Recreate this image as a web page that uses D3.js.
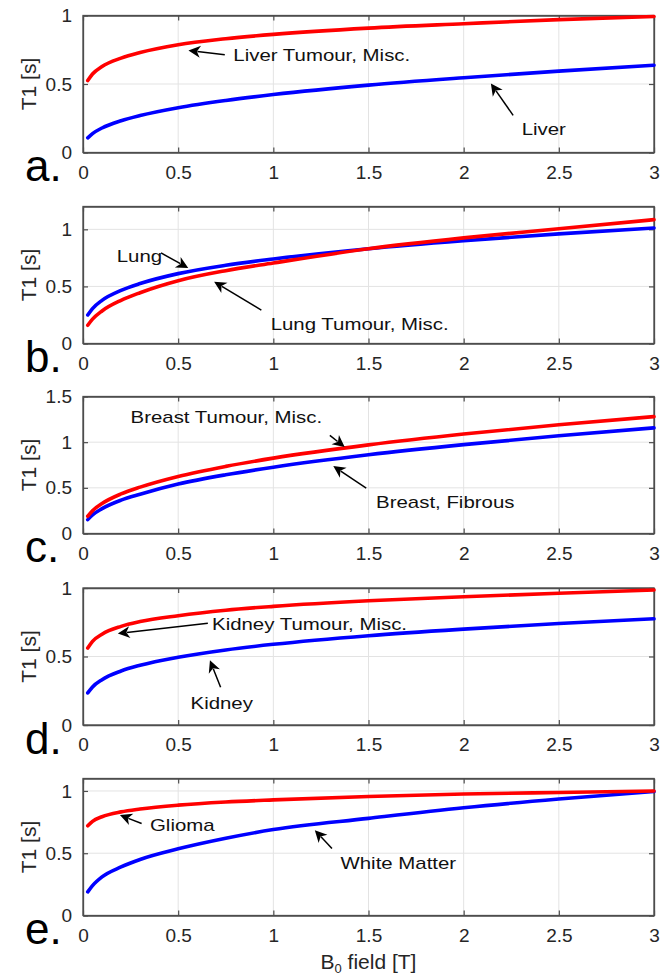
<!DOCTYPE html>
<html><head><meta charset="utf-8">
<script src="https://cdn.jsdelivr.net/npm/d3@7"></script>
<style>
html,body{margin:0;padding:0;background:#fff;}
svg{display:block;font-family:"Liberation Sans",Arial,Helvetica,sans-serif;}
</style></head>
<body><svg id="chart" width="672" height="977"></svg>
<script>
// ---------- DATA ----------
const B0 = [0.025, 0.05, 0.1, 0.2, 0.3, 0.5, 0.75, 1, 1.5, 2, 2.5, 3];

const liver        = [0.107, 0.138, 0.179, 0.232, 0.270, 0.327, 0.380, 0.423, 0.492, 0.546, 0.594, 0.637];
const liverTumour  = [0.525, 0.573, 0.628, 0.689, 0.730, 0.787, 0.830, 0.862, 0.908, 0.940, 0.970, 0.993];

const lung         = [0.250, 0.306, 0.378, 0.465, 0.525, 0.612, 0.685, 0.740, 0.830, 0.900, 0.960, 1.012];
const lungTumour   = [0.160, 0.213, 0.285, 0.378, 0.445, 0.550, 0.638, 0.705, 0.830, 0.925, 1.005, 1.085];

const breastFib    = [0.152, 0.204, 0.272, 0.365, 0.430, 0.541, 0.643, 0.726, 0.862, 0.973, 1.070, 1.157];
const breastTumour = [0.189, 0.250, 0.328, 0.433, 0.508, 0.625, 0.735, 0.825, 0.970, 1.089, 1.190, 1.280];

const kidney       = [0.234, 0.278, 0.331, 0.394, 0.436, 0.495, 0.548, 0.589, 0.652, 0.700, 0.741, 0.775];
const kidneyTumour = [0.562, 0.611, 0.663, 0.720, 0.755, 0.798, 0.838, 0.866, 0.907, 0.936, 0.962, 0.985];

const whiteMatter  = [0.190, 0.240, 0.310, 0.390, 0.450, 0.535, 0.620, 0.690, 0.780, 0.865, 0.935, 0.995];
const glioma       = [0.720, 0.756, 0.793, 0.832, 0.855, 0.886, 0.911, 0.928, 0.955, 0.975, 0.988, 1.000];

const panelLetters = ["a.", "b.", "c.", "d.", "e."];
const yMax = [1, 1.2, 1.5, 1, 1.1];
const xTicks = [0, 0.5, 1, 1.5, 2, 2.5, 3];
const xTickLabels = ["0", "0.5", "1", "1.5", "2", "2.5", "3"];
const yTicksPerPanel = [[0, 0.5, 1], [0, 0.5, 1], [0, 0.5, 1, 1.5], [0, 0.5, 1], [0, 0.5, 1]];
const yTickLabelsPerPanel = [["0","0.5","1"], ["0","0.5","1"], ["0","0.5","1","1.5"], ["0","0.5","1"], ["0","0.5","1"]];
const blueSeries = [liver, lung, breastFib, kidney, whiteMatter];
const redSeries  = [liverTumour, lungTumour, breastTumour, kidneyTumour, glioma];

// annotations: text position (tx,ty) and arrow tail (x1,y1) -> tip (x2,y2), in data units
const annotations = [
  {p:0, text:"Liver Tumour, Misc.", tx:0.79,  ty:0.666, x1:0.745, y1:0.714, x2:0.554, y2:0.745},
  {p:0, text:"Liver",               tx:2.305, ty:0.128, x1:2.26,  y1:0.271, x2:2.143, y2:0.504},
  {p:1, text:"Lung",                tx:0.177, ty:0.717, x1:0.41,  y1:0.793, x2:0.553, y2:0.662},
  {p:1, text:"Lung Tumour, Misc.",  tx:0.986, ty:0.117, x1:0.937, y1:0.293, x2:0.689, y2:0.541},
  {p:2, text:"Breast Tumour, Misc.",tx:0.25,  ty:1.207, x1:1.297, y1:1.074, x2:1.375, y2:0.947},
  {p:2, text:"Breast, Fibrous",     tx:1.54,  ty:0.279, x1:1.488, y1:0.496, x2:1.315, y2:0.738},
  {p:3, text:"Kidney Tumour, Misc.",tx:0.678, ty:0.693, x1:0.656, y1:0.742, x2:0.183, y2:0.668},
  {p:3, text:"Kidney",              tx:0.565, ty:0.116, x1:0.723, y1:0.275, x2:0.667, y2:0.472},
  {p:4, text:"Glioma",              tx:0.352, ty:0.677, x1:0.308, y1:0.739, x2:0.194, y2:0.806},
  {p:4, text:"White Matter",        tx:1.353, ty:0.377, x1:1.308, y1:0.538, x2:1.218, y2:0.685}
];

// ---------- LAYOUT ----------
const svg = d3.select("#chart");
const left = 83, right = 654, H = 137;
const tops = [15.5, 206.5, 396.5, 588, 778.5];
const x = d3.scaleLinear().domain([0, 3]).range([left, right]);

const frameColor = "#4d4d4d", gridColor = "#e3e3e3", tickTextColor = "#262626";

function stretchText(sel, factor) {
  sel.each(function() {
    const w = this.getComputedTextLength();
    d3.select(this).attr("textLength", w * factor).attr("lengthAdjust", "spacingAndGlyphs");
  });
}

tops.forEach((top, i) => {
  const y = d3.scaleLinear().domain([0, yMax[i]]).range([top + H, top]);
  const g = svg.append("g");

  // grid
  g.selectAll(".gx").data(xTicks.slice(1, -1)).join("line")
    .attr("x1", d => x(d)).attr("x2", d => x(d)).attr("y1", top).attr("y2", top + H)
    .attr("stroke", gridColor).attr("stroke-width", 1);
  g.selectAll(".gy").data(yTicksPerPanel[i].filter(v => v > 0 && v < yMax[i])).join("line")
    .attr("x1", left).attr("x2", right).attr("y1", d => y(d)).attr("y2", d => y(d))
    .attr("stroke", gridColor).attr("stroke-width", 1);

  // axes (ticks inward, MATLAB style)
  const ax = d3.axisBottom(x).tickValues(xTicks).tickFormat((d, k) => xTickLabels[k]).tickSizeInner(-5).tickSizeOuter(0).tickPadding(12);
  const gx = g.append("g").attr("transform", `translate(0,${top + H})`).call(ax);
  const ay = d3.axisLeft(y).tickValues(yTicksPerPanel[i]).tickFormat((d, k) => yTickLabelsPerPanel[i][k]).tickSizeInner(-5).tickSizeOuter(0).tickPadding(11);
  g.append("g").attr("transform", `translate(${left},0)`).call(ay);
  const axTop = d3.axisTop(x).tickValues(xTicks).tickFormat("").tickSizeInner(-5).tickSizeOuter(0);
  g.append("g").attr("transform", `translate(0,${top})`).call(axTop);
  const ayR = d3.axisRight(y).tickValues(yTicksPerPanel[i]).tickFormat("").tickSizeInner(-5).tickSizeOuter(0);
  g.append("g").attr("transform", `translate(${right},0)`).call(ayR);
  g.selectAll(".domain").attr("stroke", frameColor).attr("stroke-width", 1.3);
  g.selectAll(".tick line").attr("stroke", frameColor).attr("stroke-width", 1.2);
  g.selectAll(".tick text").attr("font-size", 19).attr("fill", tickTextColor)
    .attr("font-family", '"Liberation Sans",Arial,sans-serif');
  gx.selectAll(".tick text").attr("dy", "0.71em").attr("y", 13);

  // frame
  g.append("rect").attr("x", left).attr("y", top).attr("width", right - left).attr("height", H)
    .attr("fill", "none").attr("stroke", frameColor).attr("stroke-width", 1.3);

  // curves
  const line = d3.line().x((d, k) => x(B0[k])).y(d => y(d)).curve(d3.curveMonotoneX);
  g.append("path").datum(blueSeries[i]).attr("d", line).attr("fill", "none")
    .attr("stroke", "#0000ff").attr("stroke-width", 3.6).attr("stroke-linecap", "round");
  g.append("path").datum(redSeries[i]).attr("d", line).attr("fill", "none")
    .attr("stroke", "#ff0000").attr("stroke-width", 3.6).attr("stroke-linecap", "round");

  // y label
  g.append("text").attr("transform", `translate(36,${top + H / 2}) rotate(-90)`)
    .attr("text-anchor", "middle").attr("font-size", 21).attr("fill", tickTextColor).text("T1 [s]");

  // panel letter
  g.append("text").attr("x", 25).attr("y", top + H + 28.5).attr("font-size", 44).attr("fill", "#000")
    .text(panelLetters[i]);

  // annotations
  annotations.filter(a => a.p === i).forEach(a => {
    const x1 = x(a.x1), y1 = y(a.y1), x2 = x(a.x2), y2 = y(a.y2);
    const ang = Math.atan2(y2 - y1, x2 - x1);
    const L = 12, W = 6;
    const bx = x2 - L * Math.cos(ang), by = y2 - L * Math.sin(ang);
    g.append("line").attr("x1", x1).attr("y1", y1).attr("x2", bx + 3 * Math.cos(ang)).attr("y2", by + 3 * Math.sin(ang))
      .attr("stroke", "#000").attr("stroke-width", 1.5);
    const px = -Math.sin(ang), py = Math.cos(ang);
    const nx = x2 - (L - 3.5) * Math.cos(ang), ny = y2 - (L - 3.5) * Math.sin(ang);
    const head = d3.path();
    head.moveTo(x2, y2);
    head.lineTo(bx + W * px, by + W * py);
    head.lineTo(nx, ny);
    head.lineTo(bx - W * px, by - W * py);
    head.closePath();
    g.append("path").attr("d", head.toString()).attr("fill", "#000");
    const t = g.append("text").attr("x", x(a.tx)).attr("y", y(a.ty)).attr("font-size", 17)
      .attr("fill", "#111").text(a.text);
    stretchText(t, 1.2);
  });
});

// x-axis title
const xt = svg.append("text").attr("x", x(1.5)).attr("y", 969).attr("text-anchor", "middle")
  .attr("font-size", 21).attr("fill", tickTextColor);
xt.append("tspan").text("B");
xt.append("tspan").attr("font-size", 13).attr("dy", 4).text("0");
xt.append("tspan").attr("dy", -4).text(" field [T]");
</script>
</body></html>
